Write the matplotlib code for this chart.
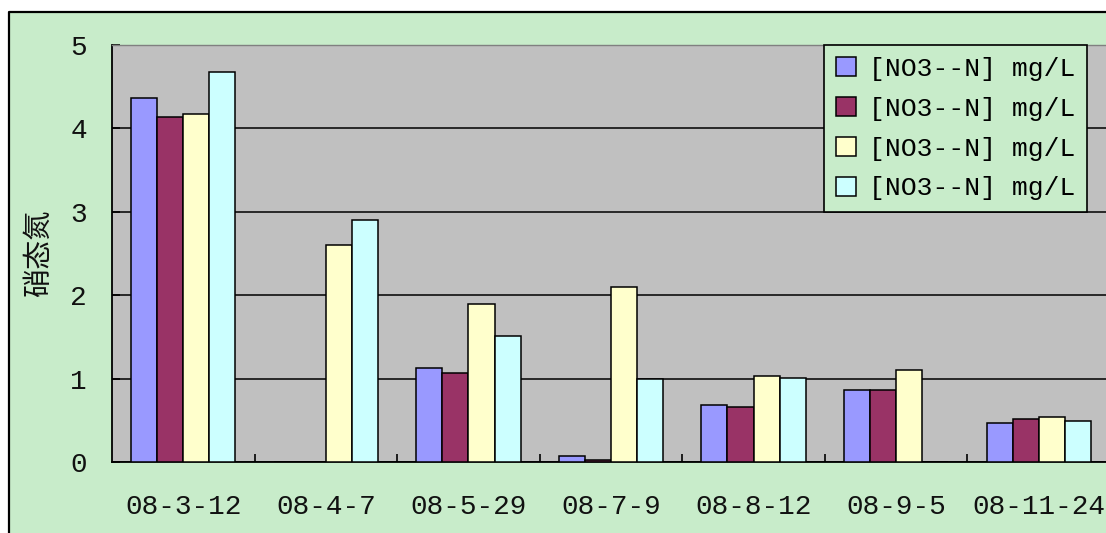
import matplotlib
matplotlib.use("Agg")
import matplotlib.pyplot as plt
from matplotlib.patches import Rectangle
from matplotlib.lines import Line2D
import numpy as np

dates = ["08-3-12", "08-4-7", "08-5-29", "08-7-9", "08-8-12", "08-9-5", "08-11-24"]
series_label = "[NO3--N] mg/L"
s1 = [4.36, 0.0, 1.13, 0.07, 0.68, 0.86, 0.47]
s2 = [4.14, 0.0, 1.07, 0.02, 0.66, 0.86, 0.51]
s3 = [4.17, 2.60, 1.89, 2.10, 1.03, 1.10, 0.54]
s4 = [4.68, 2.90, 1.51, 1.00, 1.01, 0.0, 0.49]
colors = ["#9999ff", "#993366", "#ffffcc", "#ccffff"]

BG = "#c8ecca"
PLOT = "#c0c0c0"
MONO = "Liberation Mono"

W, H = 1106, 533
fig = plt.figure(figsize=(W / 100, H / 100), dpi=100)
fig.patch.set_facecolor("white")

# green chart area, framed only on the top and left (the rest runs off the image)
x0, y0 = 9 / W, 1 - 12 / H
fig.patches.append(Rectangle((x0, 0), 1 - x0, y0, transform=fig.transFigure,
                             facecolor=BG, edgecolor="none", zorder=-2))
fig.lines.append(Line2D([x0, x0, 1], [0, y0, y0], transform=fig.transFigure,
                        color="black", linewidth=1.6, zorder=-1))

ax = fig.add_axes([112 / W, 1 - 462 / H, 998 / W, (462 - 45) / H])
ax.set_facecolor(PLOT)

x = np.arange(len(dates))
w = 0.183
for i, (vals, col) in enumerate(zip([s1, s2, s3, s4], colors)):
    ax.bar(x + (i - 1.5) * w, vals, width=w, color=col, edgecolor="black",
           linewidth=1.1, label=series_label, zorder=3)

ax.set_xlim(-0.5, len(dates) - 0.5)
ax.set_ylim(0, 5)
ax.set_yticks(range(6))
ax.yaxis.grid(True, color="black", lw=1.1, zorder=1)
ax.set_axisbelow(True)

ax.set_xticks(x, dates)
ax.set_xticks(np.arange(len(dates)) + 0.5, minor=True)
ax.tick_params(axis="x", which="major", length=0, pad=23)
ax.tick_params(axis="x", which="minor", direction="in", length=6, width=1.2)
ax.tick_params(axis="y", direction="in", length=6, width=1.2, pad=18)
for lab in ax.get_xticklabels() + ax.get_yticklabels():
    lab.set_fontfamily(MONO)
    lab.set_fontsize(20)
    lab.set_color("#111111")

for s in ("left", "bottom"):
    ax.spines[s].set_color("black")
    ax.spines[s].set_linewidth(1.3)
ax.spines["top"].set_color("#808080")
ax.spines["top"].set_linewidth(1.0)
ax.spines["right"].set_visible(False)

ax.set_ylabel("硝态氮", fontfamily=["Noto Sans CJK SC", "DejaVu Sans"],
              fontsize=21, labelpad=12, color="#111111")

leg = ax.legend(loc="upper right", bbox_to_anchor=(1087 / W, 1 - 45 / H),
                bbox_transform=fig.transFigure, borderaxespad=0,
                prop={"family": MONO, "size": 19}, fancybox=False,
                framealpha=1, facecolor=BG, edgecolor="black",
                handlelength=0.75, handleheight=0.75, handletextpad=0.5,
                labelspacing=0.6, borderpad=0.45)
leg.get_frame().set_linewidth(1.2)
leg.set_zorder(5)

fig.savefig("out.png", dpi=100, facecolor=fig.get_facecolor())
